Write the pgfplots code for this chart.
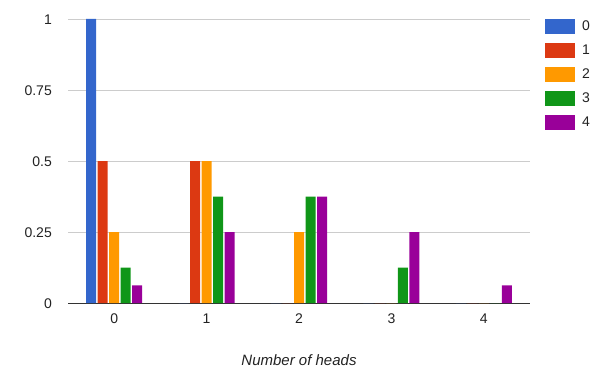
\documentclass[border=0pt]{standalone}
\usepackage{fontspec}
\setmainfont{Liberation Sans}
\usepackage{pgfplots}
\pgfplotsset{compat=1.18}
\definecolor{cA}{HTML}{3366CC}
\definecolor{cB}{HTML}{DC3912}
\definecolor{cC}{HTML}{FF9900}
\definecolor{cD}{HTML}{109618}
\definecolor{cE}{HTML}{990099}
\definecolor{gridgray}{HTML}{CCCCCC}
\definecolor{txt}{HTML}{222222}
\definecolor{baseline}{HTML}{333333}
\begin{document}
\begin{tikzpicture}[x=1pt,y=1pt]
\useasboundingbox (0,0) rectangle (607,378);
\begin{axis}[
  at={(68pt,75pt)}, anchor=south west,
  scale only axis, width=462pt, height=284pt,
  xmin=-0.5, xmax=4.5, ymin=0, ymax=1,
  ybar=1.5pt, bar width=10pt,
  axis line style={draw=none},
  major tick length=0pt,
  xtick={0,1,2,3,4}, xticklabels={0,1,2,3,4},
  ytick={0.25,0.5,0.75,1}, yticklabels={0.25,0.5,0.75,1},
  extra y ticks={0}, extra y tick labels={0},
  extra y tick style={grid style={color=baseline, line width=1pt}},
  ymajorgrids, grid style={color=gridgray, line width=0.8pt},
  tick label style={font=\fontsize{14}{16}\selectfont, text=txt},
  yticklabel style={anchor=east, inner sep=0pt, xshift=-16pt, yshift=-0.5pt},
  xticklabel style={anchor=north, inner sep=0pt, yshift=-11pt},
  xlabel={\itshape Number of heads},
  xlabel style={font=\fontsize{15}{17}\selectfont, text=txt, at={(axis description cs:0.5,0)}, anchor=center, yshift=-57pt},
  legend image code/.code={\fill[#1] (0pt,-7.5pt) rectangle (30pt,7.5pt); \path (36pt,0pt);},
  legend style={at={(1,1)}, anchor=north west, xshift=15pt, yshift=0pt, draw=none, fill=none,
    font=\fontsize{14}{16}\selectfont, text=txt, row sep=9pt, inner sep=0pt,
    nodes={inner sep=1pt, anchor=west}},
  legend cell align=left,
]
\addplot[fill=cA, draw=none] coordinates {(0,1) (1,0) (2,0) (3,0) (4,0)};
\addplot[fill=cB, draw=none] coordinates {(0,0.5) (1,0.5) (2,0) (3,0) (4,0)};
\addplot[fill=cC, draw=none] coordinates {(0,0.25) (1,0.5) (2,0.25) (3,0) (4,0)};
\addplot[fill=cD, draw=none] coordinates {(0,0.125) (1,0.375) (2,0.375) (3,0.125) (4,0)};
\addplot[fill=cE, draw=none] coordinates {(0,0.0625) (1,0.25) (2,0.375) (3,0.25) (4,0.0625)};
\legend{0,1,2,3,4}
\end{axis}
\end{tikzpicture}
\end{document}
